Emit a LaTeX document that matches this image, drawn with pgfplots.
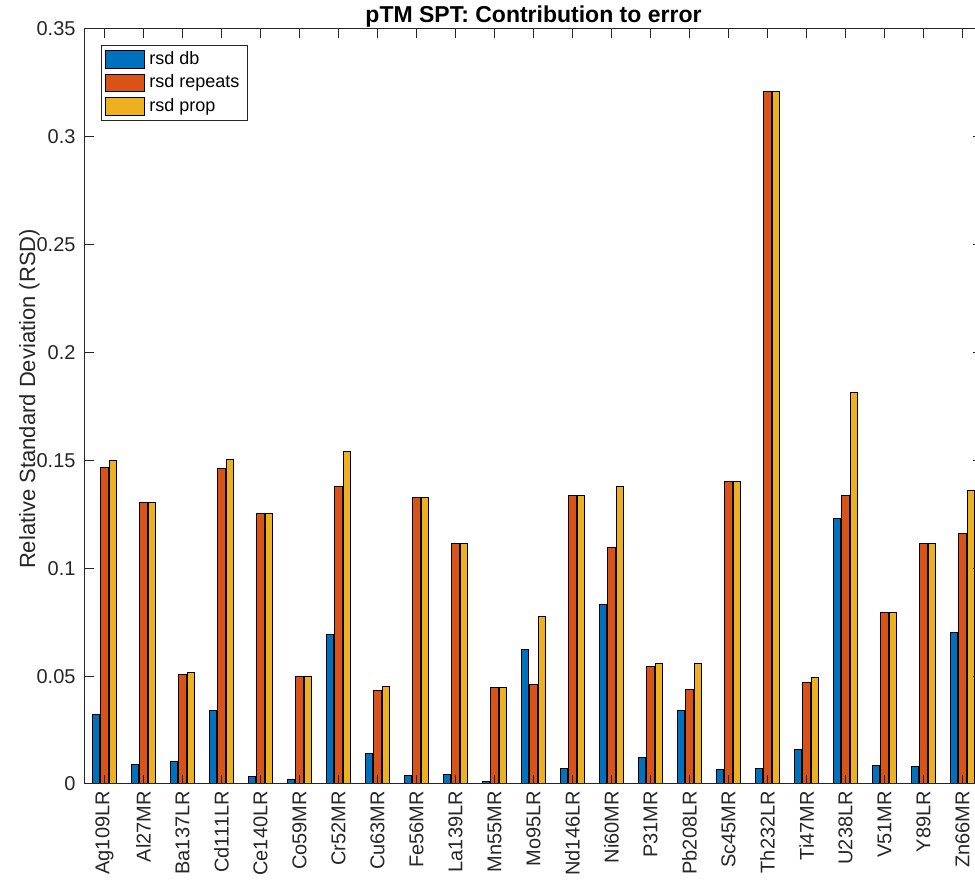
\documentclass[border=0pt]{standalone}
\usepackage{fontspec}
\setmainfont{Liberation Sans}
\usepackage{pgfplots}
\usepackage{pgfplotstable}
\pgfplotsset{compat=1.18}

\definecolor{mblue}{rgb}{0,0.447,0.741}
\definecolor{morange}{rgb}{0.85,0.325,0.098}
\definecolor{myellow}{rgb}{0.929,0.694,0.125}
\definecolor{axgray}{rgb}{0.15,0.15,0.15}

% relative standard deviations per isotope
\pgfplotstableread{
idx db rep prop
1  0.0323 0.1466 0.1500
2  0.0091 0.1306 0.1307
3  0.0102 0.0508 0.0517
4  0.0341 0.1461 0.1502
5  0.0037 0.1255 0.1256
6  0.0019 0.0499 0.0500
7  0.0691 0.1378 0.1542
8  0.0140 0.0432 0.0452
9  0.0040 0.1327 0.1328
10 0.0043 0.1116 0.1117
11 0.0012 0.0446 0.0446
12 0.0624 0.0461 0.0775
13 0.0071 0.1336 0.1337
14 0.0833 0.1097 0.1378
15 0.0122 0.0545 0.0559
16 0.0342 0.0440 0.0557
17 0.0066 0.1402 0.1403
18 0.0073 0.3210 0.3211
19 0.0159 0.0469 0.0495
20 0.1229 0.1338 0.1816
21 0.0085 0.0793 0.0795
22 0.0080 0.1113 0.1115
23 0.0703 0.1160 0.1359
}\rsd

\begin{document}
\begin{tikzpicture}
\begin{axis}[
    scale only axis,
    width=448.5pt, height=377.5pt,
    xmin=0.5, xmax=23.5,
    ymin=0, ymax=0.35,
    axis on top,
    axis line style={axgray, line width=0.5pt},
    tick style={axgray, line width=0.5pt},
    major tick length=4.5pt,
    tick align=inside,
    xtick={1,...,23},
    xticklabels={Ag109LR,Al27MR,Ba137LR,Cd111LR,Ce140LR,Co59MR,Cr52MR,Cu63MR,
        Fe56MR,La139LR,Mn55MR,Mo95LR,Nd146LR,Ni60MR,P31MR,Pb208LR,Sc45MR,
        Th232LR,Ti47MR,U238LR,V51MR,Y89LR,Zn66MR},
    ytick={0,0.05,0.1,0.15,0.2,0.25,0.3,0.35},
    yticklabels={0,0.05,0.1,0.15,0.2,0.25,0.3,0.35},
    x tick label style={rotate=90, anchor=east, font=\fontsize{10}{12}\selectfont, text=axgray},
    y tick label style={font=\fontsize{10}{12}\selectfont, text=axgray, xshift=-1.2pt},
    ylabel={Relative Standard Deviation (RSD)},
    ylabel style={at={(axis description cs:-0.0557,0.51)}, anchor=base,
        font=\fontsize{11}{13}\selectfont, text=axgray},
    title={pTM SPT: Contribution to error},
    title style={at={(axis description cs:0.5,1)}, anchor=base, yshift=-3pt,
        font=\fontsize{11.5}{13}\selectfont\bfseries},
    legend style={at={(axis description cs:0.0178,0.979)}, anchor=north west,
        draw=axgray, line width=0.5pt, font=\fontsize{9}{11}\selectfont,
        inner xsep=2pt, inner ysep=1.2pt, row sep=0pt,
        nodes={inner ysep=0.5pt, text height=7.8pt, text depth=3pt}},
    legend cell align=left,
    legend image code/.code={\draw[#1, line width=0.5pt] (0pt,-4.4pt) rectangle (19.5pt,4.4pt);},
]
\addplot[ybar, bar width=0.18, bar shift=-0.222, fill=mblue, draw=black, line width=0.5pt]
    table[x=idx, y=db]{\rsd};
\addplot[ybar, bar width=0.18, bar shift=0, fill=morange, draw=black, line width=0.5pt]
    table[x=idx, y=rep]{\rsd};
\addplot[ybar, bar width=0.18, bar shift=0.222, fill=myellow, draw=black, line width=0.5pt]
    table[x=idx, y=prop]{\rsd};
\legend{rsd db, rsd repeats, rsd prop}
\coordinate (bl) at (rel axis cs:0,0);
\coordinate (tl) at (rel axis cs:0,1);
\end{axis}
\pgfresetboundingbox
\useasboundingbox ([xshift=-42.5pt,yshift=-49pt]bl) rectangle ([xshift=445pt,yshift=14.5pt]tl);
\end{tikzpicture}
\end{document}
